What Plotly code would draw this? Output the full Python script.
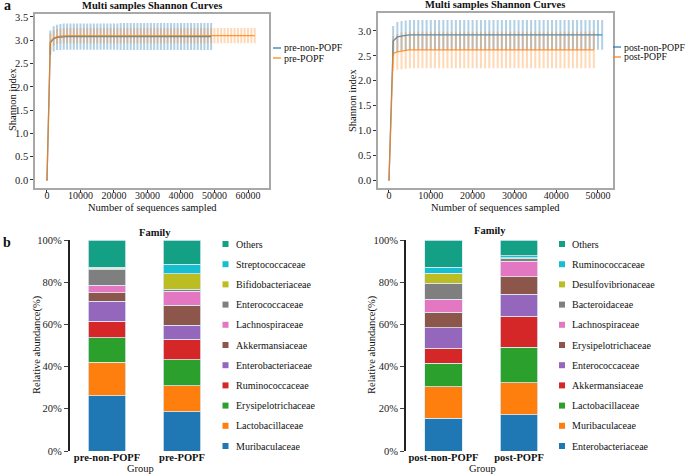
import plotly.graph_objects as go

# ---- rarefaction (Shannon) data ----
depth_pre_non = list(range(0, 50000, 1000))
shannon_pre_non = [0.00, 2.95, 3.03, 3.06, 3.07, 3.08, 3.08, 3.08, 3.08, 3.08,
                   3.08, 3.08, 3.08, 3.08, 3.08, 3.08, 3.08, 3.08, 3.08, 3.08,
                   3.08, 3.08, 3.08, 3.08, 3.08, 3.08, 3.08, 3.08, 3.08, 3.08,
                   3.08, 3.08, 3.08, 3.08, 3.08, 3.08, 3.08, 3.08, 3.08, 3.08,
                   3.08, 3.08, 3.08, 3.08, 3.08, 3.08, 3.08, 3.08, 3.08, 3.08]
sd_pre_non = [0.00, 0.24, 0.25, 0.25, 0.26, 0.26, 0.26, 0.26, 0.26, 0.26,
              0.26, 0.26, 0.26, 0.26, 0.26, 0.26, 0.26, 0.26, 0.26, 0.26,
              0.26, 0.26, 0.27, 0.27, 0.27, 0.27, 0.27, 0.27, 0.27, 0.27,
              0.27, 0.27, 0.27, 0.27, 0.27, 0.27, 0.27, 0.27, 0.27, 0.27,
              0.27, 0.27, 0.27, 0.27, 0.27, 0.27, 0.27, 0.27, 0.27, 0.27]

depth_pre = list(range(0, 63000, 1000))
shannon_pre = [0.00, 2.97, 3.05, 3.08, 3.09, 3.10, 3.10, 3.10, 3.10, 3.10,
               3.10, 3.10, 3.10, 3.10, 3.10, 3.10, 3.10, 3.10, 3.10, 3.10,
               3.10, 3.10, 3.10, 3.10, 3.10, 3.10, 3.10, 3.10, 3.10, 3.10,
               3.10, 3.10, 3.10, 3.10, 3.10, 3.10, 3.10, 3.10, 3.10, 3.10,
               3.10, 3.10, 3.10, 3.10, 3.10, 3.10, 3.10, 3.10, 3.10, 3.10,
               3.10, 3.10, 3.10, 3.10, 3.10, 3.10, 3.10, 3.10, 3.10, 3.10,
               3.10, 3.10, 3.10]
sd_pre = [0.00, 0.16, 0.14, 0.14, 0.14, 0.14, 0.14, 0.14, 0.14, 0.14,
          0.14, 0.14, 0.14, 0.14, 0.14, 0.14, 0.14, 0.14, 0.14, 0.14,
          0.14, 0.14, 0.14, 0.14, 0.14, 0.14, 0.14, 0.14, 0.14, 0.14,
          0.14, 0.14, 0.14, 0.14, 0.14, 0.14, 0.14, 0.14, 0.14, 0.14,
          0.14, 0.14, 0.14, 0.14, 0.14, 0.14, 0.14, 0.14, 0.14, 0.14,
          0.14, 0.14, 0.14, 0.14, 0.14, 0.14, 0.14, 0.14, 0.14, 0.14,
          0.14, 0.14, 0.14]

depth_post_non = list(range(0, 52000, 1000))
shannon_post_non = [0.00, 2.80, 2.88, 2.90, 2.91, 2.92, 2.92, 2.92, 2.92, 2.92,
                    2.92, 2.92, 2.92, 2.92, 2.92, 2.92, 2.92, 2.92, 2.92, 2.92,
                    2.92, 2.92, 2.92, 2.92, 2.92, 2.92, 2.92, 2.92, 2.92, 2.92,
                    2.92, 2.92, 2.92, 2.92, 2.92, 2.92, 2.92, 2.92, 2.92, 2.92,
                    2.92, 2.92, 2.92, 2.92, 2.92, 2.92, 2.92, 2.92, 2.92, 2.92,
                    2.92, 2.92]
sd_post_non = [0.00, 0.28, 0.28, 0.28, 0.28, 0.28, 0.28, 0.28, 0.28, 0.28,
               0.28, 0.28, 0.28, 0.28, 0.28, 0.28, 0.28, 0.28, 0.28, 0.28,
               0.28, 0.28, 0.28, 0.28, 0.28, 0.28, 0.28, 0.28, 0.28, 0.28,
               0.28, 0.28, 0.28, 0.28, 0.28, 0.28, 0.28, 0.28, 0.28, 0.28,
               0.28, 0.28, 0.28, 0.28, 0.28, 0.28, 0.28, 0.28, 0.28, 0.28,
               0.28, 0.28]

depth_post = list(range(0, 50000, 1000))
shannon_post = [0.00, 2.55, 2.58, 2.60, 2.61, 2.62, 2.62, 2.62, 2.62, 2.62,
                2.62, 2.62, 2.62, 2.62, 2.62, 2.62, 2.62, 2.62, 2.62, 2.62,
                2.62, 2.62, 2.62, 2.62, 2.62, 2.62, 2.62, 2.62, 2.62, 2.62,
                2.62, 2.62, 2.62, 2.62, 2.62, 2.62, 2.62, 2.62, 2.62, 2.62,
                2.62, 2.62, 2.62, 2.62, 2.62, 2.62, 2.62, 2.62, 2.62, 2.62]
sd_post = [0.00, 0.33, 0.34, 0.35, 0.35, 0.35, 0.35, 0.35, 0.35, 0.35,
           0.35, 0.35, 0.35, 0.35, 0.35, 0.35, 0.35, 0.35, 0.35, 0.35,
           0.35, 0.35, 0.35, 0.35, 0.35, 0.35, 0.35, 0.35, 0.35, 0.35,
           0.35, 0.35, 0.35, 0.35, 0.35, 0.35, 0.35, 0.35, 0.35, 0.35,
           0.35, 0.35, 0.35, 0.35, 0.35, 0.35, 0.35, 0.35, 0.35, 0.35]

# ---- family composition (%), bottom -> top ----
pre_groups = ["pre-non-POPF", "pre-POPF"]
pre_families = ["Muribaculaceae", "Lactobacillaceae", "Erysipelotrichaceae",
                "Ruminococcaceae", "Enterobacteriaceae", "Akkermansiaceae",
                "Lachnospiraceae", "Enterococcaceae", "Bifidobacteriaceae",
                "Streptococcaceae", "Others"]
pre_non_popf = [26.1, 16.0, 11.5, 7.8, 9.6, 4.0, 3.6, 7.2, 0.8, 0.6, 12.8]
pre_popf = [18.5, 12.5, 12.2, 9.8, 6.5, 9.6, 6.5, 1.1, 7.3, 4.4, 11.6]

post_groups = ["post-non-POPF", "post-POPF"]
post_families = ["Enterobacteriaceae", "Muribaculaceae", "Lactobacillaceae",
                 "Akkermansiaceae", "Enterococcaceae", "Erysipelotrichaceae",
                 "Lachnospiraceae", "Bacteroidaceae", "Desulfovibrionaceae",
                 "Ruminococcaceae", "Others"]
post_non_popf = [15.5, 14.9, 11.2, 7.0, 9.9, 7.2, 6.3, 7.4, 4.8, 3.0, 12.8]
post_popf = [17.1, 15.2, 16.8, 14.8, 10.5, 8.2, 7.4, 1.2, 0.4, 1.0, 7.4]

palette = ["#1f77b4", "#ff7f0e", "#2ca02c", "#d62728", "#9467bd", "#8c564b",
           "#e377c2", "#7f7f7f", "#bcbd22", "#17becf", "#14a085"]

FONT = "'Liberation Serif', 'Times New Roman', 'DejaVu Serif', serif"
W, H = 685, 474
BLUE, BLUE_ERR = "rgba(31,119,180,0.8)", "rgba(31,119,180,0.35)"
ORANGE, ORANGE_ERR = "rgba(255,127,14,0.8)", "rgba(255,127,14,0.3)"

fig = go.Figure()


def px(v):
    return v / W


def py(v):
    return 1 - v / H


def curve(x, y, sd, name, color, err, xa, ya):
    fig.add_trace(go.Scatter(
        x=x, y=y, mode="lines", name=name, xaxis=xa, yaxis=ya, showlegend=False,
        line=dict(color=color, width=1.3),
        error_y=dict(type="data", array=sd, visible=True, color=err,
                     thickness=2, width=1)))


curve(depth_pre_non, shannon_pre_non, sd_pre_non, "pre-non-POPF", BLUE, BLUE_ERR, "x", "y")
curve(depth_pre, shannon_pre, sd_pre, "pre-POPF", ORANGE, ORANGE_ERR, "x", "y")
curve(depth_post_non, shannon_post_non, sd_post_non, "post-non-POPF", BLUE, BLUE_ERR, "x2", "y2")
curve(depth_post, shannon_post, sd_post, "post-POPF", ORANGE, ORANGE_ERR, "x2", "y2")


def stack(groups, families, a, b, xa, ya):
    for i, fam in enumerate(families):
        fig.add_trace(go.Bar(
            x=groups, y=[a[i], b[i]], name=fam, xaxis=xa, yaxis=ya,
            showlegend=False, width=0.5,
            marker=dict(color=palette[i], line=dict(color="#dceaf5", width=0.8))))


stack(pre_groups, pre_families, pre_non_popf, pre_popf, "x3", "y3")
stack(post_groups, post_families, post_non_popf, post_popf, "x4", "y4")

tick_font = dict(family=FONT, size=10.5, color="#222")
frame = dict(showline=True, linecolor="#a8a8a8", linewidth=1.5, mirror=True,
             ticks="outside", ticklen=3, tickcolor="#333", showgrid=False,
             zeroline=False, automargin=False)
bar_x = dict(showline=False, ticks="", showgrid=False, automargin=False,
             range=[-0.5, 1.5], ticklabelstandoff=-2,
             tickfont=dict(family=FONT, size=10.5, color="#111", weight="bold"))
bar_y = dict(domain=[py(451), py(240)], range=[0, 100], dtick=20,
             ticksuffix="%", showline=True, linecolor="#222", linewidth=1.5,
             ticks="outside", ticklen=4, showgrid=False, zeroline=False,
             tickfont=tick_font, automargin=False)
x_ticks = dict(dtick=10000, tickformat="d", ticklabelstandoff=-6,
               tickfont=dict(family=FONT, size=10, color="#222"))

fig.update_layout(
    width=W, height=H, margin=dict(l=0, r=0, t=0, b=0),
    paper_bgcolor="white", plot_bgcolor="white", barmode="stack",
    font=dict(family=FONT, size=10, color="#222"), showlegend=False,
    xaxis=dict(domain=[px(35), px(269)], anchor="y", range=[-3580, 66270],
               **x_ticks, **frame),
    yaxis=dict(domain=[py(188), py(14)], anchor="x", range=[-0.172, 3.564],
               dtick=0.5, tickformat=".1f", tickfont=tick_font, **frame),
    xaxis2=dict(domain=[px(378), px(613)], anchor="y2", range=[-2630, 53590],
                **x_ticks, **frame),
    yaxis2=dict(domain=[py(188), py(13)], anchor="x2", range=[-0.161, 3.362],
                dtick=0.5, tickformat=".1f", tickfont=tick_font, **frame),
    xaxis3=dict(domain=[px(69.5), px(219.5)], anchor="y3", **bar_x),
    yaxis3=dict(anchor="x3", **bar_y),
    xaxis4=dict(domain=[px(405.75), px(556.75)], anchor="y4", **bar_x),
    yaxis4=dict(anchor="x4", **bar_y),
)


def label(text, x, y, size=10, bold=False, angle=0, anchor="center"):
    fig.add_annotation(text=("<b>%s</b>" % text) if bold else text,
                       x=px(x), y=py(y), xref="paper", yref="paper",
                       showarrow=False, xanchor=anchor, yanchor="middle",
                       textangle=angle,
                       font=dict(family=FONT, size=size, color="#111"))


# titles, axis titles and panel letters
label("Multi samples Shannon Curves", 152, 6, 10.5, True)
label("Multi samples Shannon Curves", 495, 5, 10.5, True)
label("Family", 155, 232, 10.5, True)
label("Family", 490, 231, 10.5, True)
label("a", 7, 6, 14, True)
label("b", 7, 243, 14, True)
for cx in (152, 495):
    label("Number of sequences sampled", cx, 207, 10.5)
for cx in (13, 353):
    label("Shannon index", cx, 100, 10.5, angle=-90)
label("Group", 140, 468, 10.5)
label("Group", 482, 468, 10.5)
label("Relative abundance(%)", 37, 345, 10.5, angle=-90)
label("Relative abundance(%)", 372, 345, 10.5, angle=-90)

# line legends for the rarefaction panels
for (x0, y0, names, size) in ((273, 48, ["pre-non-POPF", "pre-POPF"], 10),
                              (613, 47, ["post-non-POPF", "post-POPF"], 9.8)):
    for k, (nm, col) in enumerate(zip(names, [BLUE, ORANGE])):
        yy = y0 + 10 * k
        fig.add_shape(type="line", xref="paper", yref="paper",
                      x0=px(x0), x1=px(x0 + 8), y0=py(yy), y1=py(yy),
                      line=dict(color=col, width=1.5))
        label(nm, x0 + 9, yy, size, anchor="left")

# square-swatch legends for the stacked bars (top entry = last family)
for (sx, families) in ((222.5, pre_families), (559, post_families)):
    for k, fam in enumerate(reversed(families)):
        i = len(families) - 1 - k
        yy = 244 + 20.2 * k
        fig.add_shape(type="rect", xref="paper", yref="paper",
                      x0=px(sx), x1=px(sx + 6), y0=py(yy - 3), y1=py(yy + 3),
                      line=dict(width=0), fillcolor=palette[i])
        label(fam, sx + 11, yy, 10, anchor="left")

# the page body has a default 8px margin; drop it so the figure sits at 0,0
fig.write_html("out.html", config={"displayModeBar": False},
               post_script="document.body.style.margin = '0';")
